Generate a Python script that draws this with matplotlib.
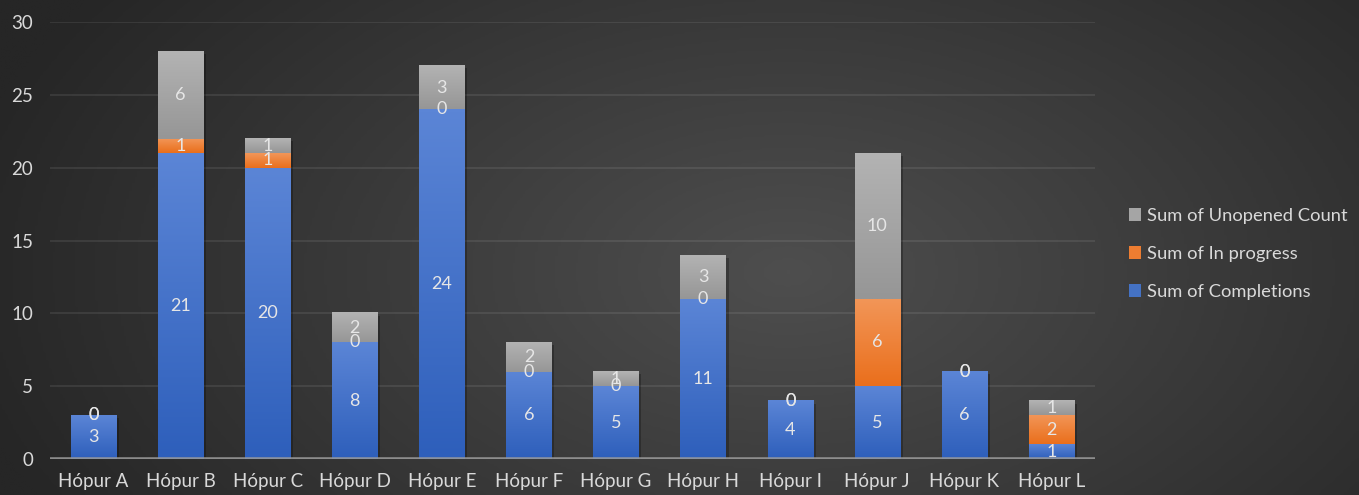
import matplotlib
matplotlib.use('Agg')
import matplotlib.pyplot as plt
import matplotlib.patheffects as pe
import numpy as np
from matplotlib.colors import LinearSegmentedColormap
from matplotlib.patches import Patch

categories = ['Hópur A', 'Hópur B', 'Hópur C', 'Hópur D', 'Hópur E', 'Hópur F',
              'Hópur G', 'Hópur H', 'Hópur I', 'Hópur J', 'Hópur K', 'Hópur L']
completions = [3, 21, 20, 8, 24, 6, 5, 11, 4, 5, 6, 1]
in_progress = [0, 1, 1, 0, 0, 0, 0, 0, 0, 6, 0, 2]
unopened = [0, 6, 1, 2, 3, 2, 1, 3, 0, 10, 0, 1]

series = [
    ('Sum of Completions', completions, '#4472C4', ('#5b85d6', '#2e5fbb')),
    ('Sum of In progress', in_progress, '#ED7D31', ('#f29658', '#ea6f1c')),
    ('Sum of Unopened Count', unopened, '#A5A5A5', ('#b3b3b3', '#969696')),
]

plt.rcParams['font.family'] = ['Lato', 'DejaVu Sans']
txt = '#d9d9d9'

fig = plt.figure(figsize=(13.59, 4.95), dpi=100)

# radial background
bg = fig.add_axes([0, 0, 1, 1], zorder=-10)
yy, xx = np.mgrid[0:1:250j, 0:1:500j]
r = np.sqrt(((xx - 0.58) / 0.62) ** 2 + ((yy - 0.55) / 1.0) ** 2)
bg.imshow(1 - np.clip(r, 0, 1), cmap=LinearSegmentedColormap.from_list('bg', ['#262626', '#4e4e4e']),
          aspect='auto', extent=[0, 1, 0, 1], interpolation='bilinear')
bg.axis('off')

ax = fig.add_axes([50 / 1359, 36 / 495, 1045 / 1359, 437 / 495])
ax.patch.set_alpha(0)
x = np.arange(len(categories))
grad = np.linspace(1, 0, 100).reshape(-1, 1)

bottom = np.zeros(len(categories))
handles = []
for name, vals, col, (top_c, bot_c) in series:
    bars = ax.bar(x, vals, 0.52, bottom=bottom, color=col, zorder=3,
                  path_effects=[pe.SimplePatchShadow(offset=(2, -2), shadow_rgbFace='black', alpha=0.25), pe.Normal()])
    cmap = LinearSegmentedColormap.from_list(name, [bot_c, top_c])
    for rect in bars:
        h = rect.get_height()
        if h <= 0:
            continue
        x0 = rect.get_x()
        y0 = rect.get_y()
        ax.imshow(grad, cmap=cmap, extent=[x0, x0 + rect.get_width(), y0, y0 + h],
                  aspect='auto', zorder=4, interpolation='bilinear')
    ax.bar_label(bars, label_type='center', color='#e6e6e6', fontsize=13, zorder=6)
    handles.append(Patch(facecolor=col, label=name))
    bottom = bottom + np.array(vals)

ax.set_xlim(-0.5, 11.5)
ax.set_ylim(0, 30)
ax.set_yticks(range(0, 31, 5))
ax.set_xticks(x)
ax.set_xticklabels(categories)
ax.grid(axis='y', color='white', alpha=0.09, lw=1.3, zorder=0)
ax.axhline(0, color='#9a9a9a', lw=2.6, alpha=0.85, zorder=5)
for s in ax.spines.values():
    s.set_visible(False)
ax.tick_params(length=0, colors=txt, labelsize=13.5)
ax.tick_params(axis='y', pad=12)
ax.tick_params(axis='x', pad=10)

fig.legend(handles=handles[::-1], loc='center left', bbox_to_anchor=(1112 / 1359, 1 - 254 / 495),
           frameon=False, fontsize=13.2, labelcolor=txt, handlelength=0.7, handleheight=0.7,
           handletextpad=0.3, labelspacing=1.2)

fig.savefig('out.png', dpi=100)
